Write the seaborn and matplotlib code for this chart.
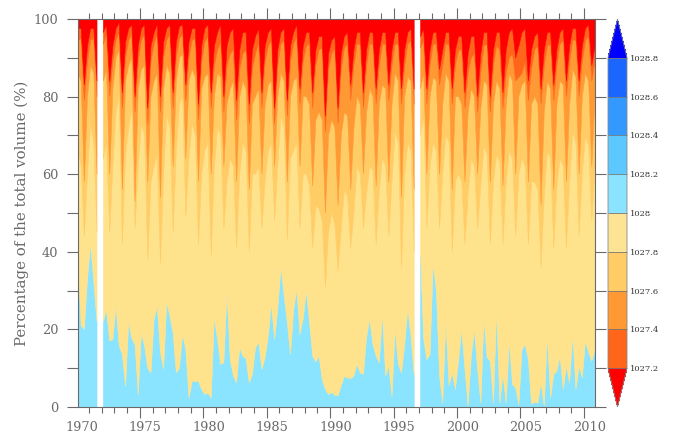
import numpy as np
import seaborn as sns
import matplotlib
matplotlib.use('Agg')
import matplotlib.pyplot as plt
import matplotlib.cm as cm
import matplotlib.transforms as mtransforms
from matplotlib.colors import ListedColormap, BoundaryNorm

nan = np.nan

#====== data: quarterly samples, % of total volume below each density contour ======
time = np.arange(1970.125, 2011.0, 0.25)

# top of the densest class (1028 contour)
pct_1028 = [
    38, 21, 20, 33,   42, 32, 22, nan,
    22, 25, 17, 17.4,   26, 15.7, 13.5, 5.3,
    22, 17.6, 16, 3.2,   19, 15.7, 10, 8.8,
    22.6, 26, 14, 9.8,   27, 23.4, 19, 8.8,
    10, 18.7, 14.8, 2.3,   6.6, 6.6, 6.6, 4.5,
    3.2, 3.6, 2.3, 23,   17.4, 11, 11.4, 29.5,
    12.2, 8, 6.2, 15.3,   13.1, 12.4, 6.2, 8.4,
    15.3, 16.6, 9.7, 12.7,   18.3, 26.5, 17.4, 25.2,
    36, 28.6, 21.7, 13.5,   25, 30.3, 18.7, 22.6,
    30, 21.7, 13.1, 11.6,   13.1, 7.1, 4.5, 3.2,
    3.8, 3.0, 2.9, 5.5,   7.9, 7.5, 7.3, 8,
    11, 8.8, 8.4, 18,   22.6, 16, 13.1, 11.4,
    24, 8, 10.5, 2.8,   20, 11, 8.8, 16,
    25.2, 18.3, 8, nan,   39, 17.5, 12.2, 13.5,
    37, 30, 8, 1,   22, 5.5, 8.8, 4.5,
    12, 20, 9.7, 0.2,   13, 20, 9.7, 1,
    22.6, 12.7, 11.8, 1,   25, 1, 8.4, 1,
    17, 5.8, 4.9, 0.6,   14.8, 16.1, 12.2, 0.8,
    1.2, 1, 6.2, 0.2,   18.3, 2.3, 8.4, 9.2,
    13.1, 4.5, 10.5, 6.2,   18.7, 4.5, 10.5, 7.5,
    17, 14, 11.8, 14.8,
]

# 1027.8 contour
pct_10278 = [
    66, 62, 44, 60,   73, 68, 45, nan,
    64, 68, 45, 62,   76, 80, 42, 65,
    72, 77, 46, 62,   73, 70, 38, 58,
    62, 65, 37, 60,   75, 72, 45, 66,
    78, 80, 49, 64,   73, 70, 42, 60,
    66, 68, 39, 62,   72, 70, 46, 58,
    64, 62, 41, 60,   68, 66, 40, 60,
    60, 62, 46, 58,   66, 68, 48, 62,
    75, 72, 43, 64,   66, 68, 46, 60,
    60, 57, 41, 52,   51, 48, 31, 45,
    50, 47, 35, 46,   56, 54, 41, 50,
    62, 60, 46, 55,   62, 61, 42, 56,
    64, 62, 44, 58,   71, 68, 36, 60,
    68, 66, 40, nan,   70, 75, 46, 62,
    68, 66, 46, 60,   70, 68, 40, 58,
    60, 58, 42, 55,   64, 62, 46, 57,
    67, 65, 42, 58,   65, 63, 42, 58,
    66, 64, 44, 60,   64, 62, 42, 58,
    58, 56, 36, 54,   66, 64, 41, 57,
    64, 62, 41, 58,   71, 68, 44, 60,
    70, 67, 48, 62,
]

# 1027.6 contour
pct_10276 = [
    86, 84, 58, 80,   88, 86, 60, nan,
    84, 87, 60, 82,   90, 92, 56, 84,
    88, 90, 53, 82,   87, 88, 58, 80,
    84, 86, 54, 82,   88, 86, 62, 84,
    90, 91, 64, 84,   87, 85, 58, 82,
    85, 86, 60, 80,   86, 85, 62, 78,
    82, 84, 58, 80,   84, 82, 56, 78,
    80, 82, 60, 78,   83, 84, 62, 80,
    86, 84, 58, 80,   84, 85, 62, 80,
    80, 78, 57, 74,   76, 74, 50, 70,
    74, 72, 52, 70,   76, 75, 56, 72,
    80, 78, 60, 76,   82, 80, 57, 78,
    83, 82, 58, 78,   86, 84, 54, 80,
    85, 84, 56, nan,   82, 86, 60, 80,
    85, 84, 60, 78,   86, 84, 56, 80,
    80, 78, 58, 76,   82, 80, 60, 77,
    84, 83, 58, 78,   84, 82, 57, 78,
    86, 84, 60, 80,   83, 84, 58, 78,
    80, 78, 52, 76,   84, 82, 56, 78,
    84, 83, 58, 78,   87, 85, 60, 80,
    86, 84, 62, 80,
]

# 1027.4 contour
pct_10274 = [
    94.5, 95, 79, 89,   94.5, 95, 80, nan,
    93.5, 96, 80, 89,   94.5, 96.5, 77, 90,
    94.5, 96, 76, 89,   94.5, 96, 73, 89,
    93.5, 96, 76, 90,   94.5, 96, 77, 90,
    95, 96, 79, 90,   94.5, 95, 74, 89,
    94, 95.5, 77, 88,   92, 94, 76, 88,
    91, 92, 74, 87,   91, 92, 73, 87,
    91, 94, 77, 89,   93, 94.5, 73, 88,
    93.5, 94.5, 75, 89,   93.5, 95.5, 78, 89,
    93, 93.5, 77, 88,   92, 92.5, 71, 87,
    91, 92.5, 73, 87,   92.5, 93.5, 79, 88,
    93.5, 93.5, 77, 88,   93.5, 93.5, 78, 88,
    93.5, 93.5, 79, 88,   93.5, 93.5, 78, 88,
    93.5, 94.5, 78, nan,   92.5, 94.5, 78, 88,
    93.5, 93.5, 83, 88,   93.5, 93.5, 78, 88,
    92, 92, 77, 86,   90, 91, 76, 86,
    93, 93.5, 76, 88,   93, 92, 77, 86,
    90, 91, 84, 85,   86, 89, 79, 87,
    92, 93, 78, 88,   93, 93.5, 79, 88,
    93.5, 94.5, 80, 89,   94.5, 94.5, 80, 89,
    94.5, 95.5, 84, 89,
]

# 1027.2 contour
pct_10272 = [
    97.5, 97.5, 83, 93,   97.5, 97.5, 84, nan,
    96.5, 98.5, 84, 93,   97.5, 99, 81, 94,
    97.5, 98.5, 80, 93,   97.5, 98.5, 77, 93,
    96.5, 98.5, 80, 94,   97.5, 98.5, 81, 94,
    98, 98.5, 83, 94,   97.5, 97.5, 78, 93,
    97.5, 98.5, 81, 93,   96.5, 98.5, 80, 93,
    96.5, 97.5, 79, 92,   96.5, 96.5, 78, 92,
    95.5, 97.5, 81, 93,   96.5, 97.5, 77, 92,
    96.5, 97.5, 79, 93,   96.5, 98.5, 82, 93,
    96.5, 96.5, 81, 92,   95.5, 95.5, 75, 91,
    94.5, 95.5, 77, 91,   95.5, 96.5, 83, 92,
    96.5, 96.5, 81, 92,   96.5, 96.5, 82, 92,
    96.5, 96.5, 83, 92,   96.5, 96.5, 82, 92,
    96.5, 97.5, 82, nan,   95.5, 97.5, 82, 92,
    96.5, 96.5, 87, 92,   96.5, 96.5, 82, 92,
    95.5, 95.5, 81, 91,   95.5, 95.5, 80, 91,
    96.5, 96.5, 80, 92,   96.5, 96.5, 81, 92,
    96.5, 97.5, 90, 93,   96.5, 97.5, 84, 92,
    95.5, 96.5, 82, 92,   96.5, 96.5, 83, 92,
    96.5, 97.5, 84, 93,   97.5, 97.5, 84, 93,
    97.5, 98.5, 88, 93,
]

levels = [1027.2, 1027.4, 1027.6, 1027.8, 1028.0, 1028.2, 1028.4, 1028.6, 1028.8]
level_labels = ['1027.2', '1027.4', '1027.6', '1027.8', '1028', '1028.2', '1028.4', '1028.6', '1028.8']
box_colors = ['#FF6619', '#FF9933', '#FFCC66', '#FCE494', '#8AE3FF', '#5DC8FF', '#3399FF', '#1A66FF']
under_color = '#FF0000'
over_color = '#0000FF'
label_years = [1970, 1975, 1980, 1985, 1990, 1995, 2000, 2005, 2010]

#====== style ======
sns.set_style('ticks')
plt.rcParams['font.family'] = ['DejaVu Serif']
gray = '#6a6a6a'

fig = plt.figure(figsize=(6.75, 4.37), dpi=100)
ax = fig.add_axes([78 / 675, 30 / 437, 517 / 675, 388 / 437])

# stack the bands, densest at the bottom
bounds = [np.zeros(len(time)), np.array(pct_1028), np.array(pct_10278),
          np.array(pct_10276), np.array(pct_10274), np.array(pct_10272),
          np.full(len(time), 100.0)]
band_colors = ['#8AE3FF', '#FFE38C', '#FFCC66', '#FF9933', '#FF6619', '#FF0000']
for i, c in enumerate(band_colors):
    lo = np.where(np.isnan(bounds[1]), nan, bounds[i])
    ax.fill_between(time, lo, bounds[i + 1], color=c, lw=0.4, edgecolor=c)

ax.set_xlim(time[0], time[-1])
ax.set_ylim(0, 100)

ax.set_xticks(range(1975, 2011, 5))
ax.set_xticks(range(1971, 2011), minor=True)
ax.set_xticklabels([])
ax.set_yticks(range(0, 101, 20))
ax.set_yticks(range(10, 100, 20), minor=True)
ax.tick_params(axis='both', which='both', direction='out', color=gray, width=0.8,
               top=True, right=True, labelcolor=gray, labelsize=9.3)
ax.tick_params(axis='x', which='major', length=8)
ax.tick_params(axis='x', which='minor', length=4)
ax.tick_params(axis='y', which='both', length=8, pad=6)
for s in ax.spines.values():
    s.set_color(gray)
    s.set_linewidth(0.8)

# year labels sit slightly right of the year ticks
trans = mtransforms.blended_transform_factory(ax.transData, ax.transAxes)
for yr in label_years:
    ax.text(yr + 0.43, -0.054, str(yr), transform=trans, ha='center', va='center',
            fontsize=9.3, color=gray)

ax.set_ylabel('Percentage of the total volume (%)', fontsize=10.8, color=gray, labelpad=3.5)

#====== colorbar ======
cmap = ListedColormap(box_colors)
cmap.set_under(under_color)
cmap.set_over(over_color)
norm = BoundaryNorm(levels, cmap.N)
cax = fig.add_axes([608 / 675, 30 / 437, 19 / 675, 388 / 437])
cb = fig.colorbar(cm.ScalarMappable(norm=norm, cmap=cmap), cax=cax, extend='both',
                  extendfrac=0.125, drawedges=True, ticks=levels)
cb.ax.set_yticklabels(level_labels)
cb.ax.tick_params(length=0, pad=2, labelsize=6, labelcolor='#333333')
cb.outline.set_edgecolor('#888888')
cb.outline.set_linewidth(0.6)
cb.dividers.set_color('#777777')
cb.dividers.set_linewidth(0.6)

fig.savefig('out.png', dpi=100)
